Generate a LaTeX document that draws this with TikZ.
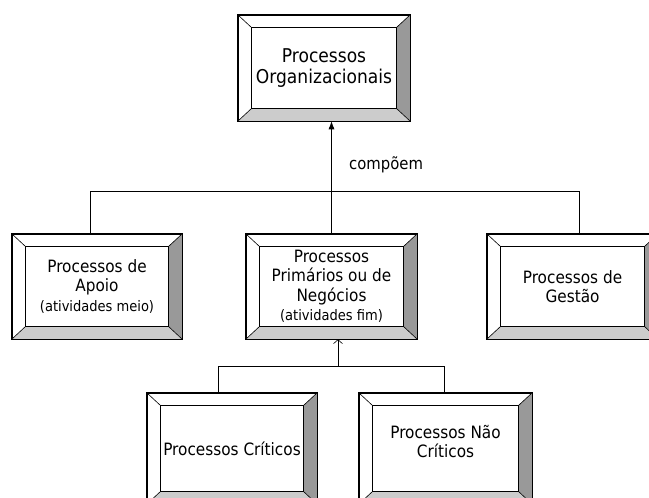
\documentclass[tikz,border=0pt]{standalone}
\usepackage{fontspec}
\setmainfont{DejaVu Sans}[FakeStretch=0.9]
\usetikzlibrary{calc,arrows.meta}
\definecolor{bevdark}{RGB}{153,153,153}
\definecolor{bevlight}{RGB}{204,204,204}
\tikzset{
	procfont/.style={font=\fontsize{17}{19.5}\selectfont},
	procbox/.style={draw, fill=white, inner sep=0pt, align=center,
		minimum width=171, minimum height=105, procfont},
}
\def\smalltxt#1{{\fontsize{14.5}{19.5}\selectfont #1}}
\def\bevel(#1){%
	\fill[bevdark] (#1.north east) -- ($(#1.north east)+(-14,-13)$) -- ($(#1.south east)+(-14,13)$) -- (#1.south east) -- cycle;
	\fill[bevlight] (#1.south west) -- ($(#1.south west)+(14,13)$) -- ($(#1.south east)+(-14,13)$) -- (#1.south east) -- cycle;
	\draw ($(#1.north west)+(14,-13)$) rectangle ($(#1.south east)+(-14,13)$);
	\draw (#1.north west) -- ++(14,-13);
	\draw (#1.north east) -- ++(-14,-13);
	\draw (#1.south west) -- ++(14,13);
	\draw (#1.south east) -- ++(-14,13);
	\draw (#1.north west) rectangle (#1.south east);
}

\begin{document}
\begin{tikzpicture}[x=1pt, y=1pt, line width=0.6pt]
		%%%%% START %%%%%
		\useasboundingbox (0,0) rectangle (649,498);
		\clip (0,0) rectangle (649,498);
		
		\node[procbox, minimum width=172, minimum height=106, font=\fontsize{19}{21}\selectfont] (org) at (324,430) {Processos\\Organizacionais};
		
		\node[procbox, minimum width=170] (apoio) at (97,211.5) {Processos de\\Apoio\\\smalltxt{(atividades meio)}};
		\node[procbox] (prim) at (331.5,211.5) {Processos\\Primários ou de\\Negócios\\\smalltxt{(atividades fim)}};
		\node[procbox] (gestao) at (572.5,211.5) {Processos de\\Gestão};
		
		\node[procbox, minimum width=170, minimum height=111] (crit) at (232,49.5) {Processos Críticos};
		\node[procbox, minimum width=173, minimum height=111,
			label={[name=ncrittxt, procfont, align=center, yshift=7pt]center:Processos Não\\Críticos}] (ncrit) at (445.5,49.5) {};
		
		\foreach \n in {org,apoio,prim,gestao,crit,ncrit} {\bevel(\n)}
		
		% upper level
		\coordinate (busl) at ($(apoio.north)+(-7,0)$);
		\coordinate (busr) at ($(gestao.north)+(6.5,0)$);
		\draw (busl) -- ++(0,42) -| (busr);
		\draw[-{Latex[length=8pt,width=6pt]}] (prim.north) -- (prim.north |- org.south)
			node[pos=0.61, anchor=west, xshift=14pt, font=\fontsize{16.5}{18}\selectfont] {compõem};
		
		% lower level
		\coordinate (critl) at ($(crit.north)+(-14,0)$);
		\coordinate (critr) at ($(ncrit.north)+(-1.5,0)$);
		\coordinate (busb) at ($(critl)+(0,26)$);
		\coordinate (primb) at ($(prim.south)+(6.5,0)$);
		\draw (critl) -- (busb) -| (critr);
		\draw[-{Straight Barb[length=4pt,width=9pt]}] (primb |- busb) -- (primb);
		%%%%% END %%%%%
	\end{tikzpicture}
\end{document}
